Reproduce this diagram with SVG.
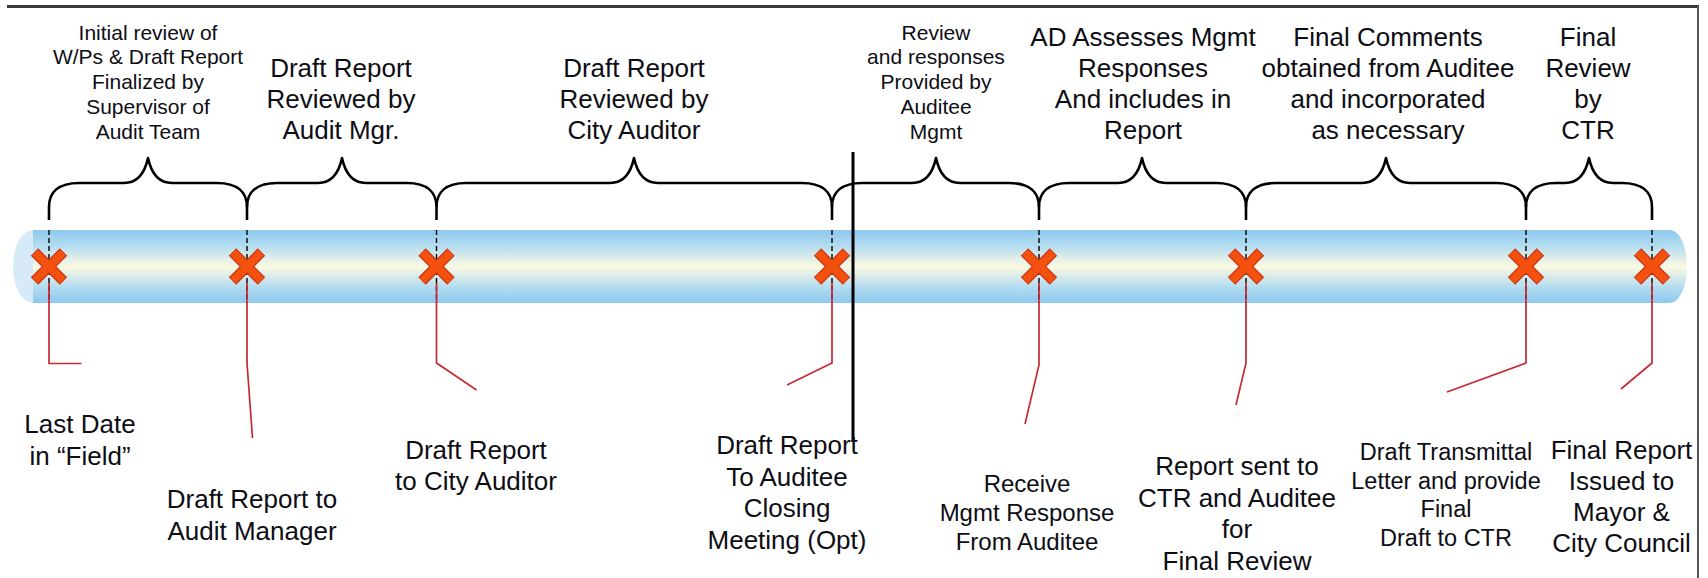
<svg xmlns="http://www.w3.org/2000/svg" width="1708" height="578" viewBox="0 0 1708 578">
  <defs>
    <linearGradient id="tubeFill" x1="0" y1="0" x2="0" y2="1">
      <stop offset="0" stop-color="#8cc8ee"/>
      <stop offset="0.22" stop-color="#b4dcf0"/>
      <stop offset="0.5" stop-color="#fbf9e2"/>
      <stop offset="0.78" stop-color="#b4dcf0"/>
      <stop offset="1" stop-color="#8cc8ee"/>
    </linearGradient>
    <!-- red cross marker, centred on 0,0 -->
    <g id="cross">
      <path d="M-14.5,-14.5 L14.5,14.5 M14.5,-14.5 L-14.5,14.5" stroke="#c9361a" stroke-width="10.5"/>
      <path d="M-14,-14 L14,14 M14,-14 L-14,14" stroke="#f4500e" stroke-width="8"/>
    </g>
  </defs>
  <style>
    text { font-family: "Liberation Sans", Arial, sans-serif; fill: #0d0d14; text-anchor: middle; }
    .big { font-size: 26px; }
    .mid { font-size: 24px; }
    .sm { font-size: 21px; }
    .tl { font-size: 23.5px; }
    .brace { fill: none; stroke: #000; stroke-width: 2.6; stroke-linejoin: round; }
    .lead { fill: none; stroke: #c62a33; stroke-width: 1.7; }
    .tick { stroke: #000; stroke-width: 1.4; stroke-dasharray: 5 3; }
  </style>

  <!-- frame -->
  <g id="frame">
    <line x1="7" y1="6.5" x2="1699" y2="6.5" stroke="#3a3a3a" stroke-width="3"/>
    <line x1="1698" y1="6" x2="1698" y2="578" stroke="#555" stroke-width="2"/>
  </g>

  <!-- timeline tube -->
  <g id="timeline">
    <ellipse cx="33" cy="266.5" rx="20" ry="36.5" fill="#d6eaf8"/>
    <path d="M33,230 H1670 A17,36.5 0 0 1 1670,303 H33 Z" fill="url(#tubeFill)"/>
    <g class="tick">
      <line x1="49" y1="230" x2="49" y2="303"/>
      <line x1="247" y1="230" x2="247" y2="303"/>
      <line x1="436.5" y1="230" x2="436.5" y2="303"/>
      <line x1="832" y1="230" x2="832" y2="303"/>
      <line x1="1039" y1="230" x2="1039" y2="303"/>
      <line x1="1246" y1="230" x2="1246" y2="303"/>
      <line x1="1526" y1="230" x2="1526" y2="303"/>
      <line x1="1652" y1="230" x2="1652" y2="303"/>
    </g>
  </g>

  <!-- connectors: phase braces, leader lines, divider -->
  <g id="connectors">
    <path class="brace" d="M49,220 L49,207 C49,192 59,183 79,183 L124,183 C138,183 145,172 148,158 C151,172 158,183 172,183 L217,183 C237,183 247,192 247,207 L247,220"/>
    <path class="brace" d="M247,207 C247,192 257,183 277,183 L318,183 C332,183 339,172 342,158 C345,172 352,183 366,183 L407,183 C427,183 436.5,192 436.5,207 L436.5,220"/>
    <path class="brace" d="M436.5,207 C436.5,192 446,183 466,183 L610,183 C624,183 631,172 634,158 C637,172 644,183 658,183 L802,183 C822,183 832,192 832,207 L832,220"/>
    <path class="brace" d="M832,207 C832,192 842,183 862,183 L912,183 C926,183 933,172 936,158 C939,172 946,183 960,183 L1009,183 C1029,183 1039,192 1039,207 L1039,220"/>
    <path class="brace" d="M1039,207 C1039,192 1049,183 1069,183 L1118,183 C1132,183 1139,172 1142,158 C1145,172 1152,183 1166,183 L1216,183 C1236,183 1246,192 1246,207 L1246,220"/>
    <path class="brace" d="M1246,207 C1246,192 1256,183 1276,183 L1362,183 C1376,183 1383,172 1386,158 C1389,172 1396,183 1410,183 L1496,183 C1516,183 1526,192 1526,207 L1526,220"/>
    <path class="brace" d="M1526,207 C1526,192 1536,183 1556,183 L1565,183 C1579,183 1586,172 1589,158 C1592,172 1599,183 1613,183 L1622,183 C1642,183 1652,192 1652,207 L1652,220"/>

    <polyline class="lead" points="49,283 49,363.5 81.5,363.5"/>
    <polyline class="lead" points="247,283 247,363 252.5,438"/>
    <polyline class="lead" points="436.5,283 436.5,363 476.5,390"/>
    <polyline class="lead" points="832,283 832,363 787,385"/>
    <polyline class="lead" points="1039,283 1039,365 1025,424"/>
    <polyline class="lead" points="1246,283 1246,363 1236,405"/>
    <polyline class="lead" points="1526,283 1526,363 1447,392"/>
    <polyline class="lead" points="1652,283 1652,363 1621,389"/>

    <line x1="853" y1="152" x2="853" y2="440" stroke="#000" stroke-width="3"/>
  </g>

  <!-- milestones -->
  <g id="m-last-date">
    <use href="#cross" x="49" y="266.5"/>
    <text class="big" x="80" y="433">Last Date</text>
    <text class="big" x="80" y="465">in “Field”</text>
  </g>
  <g id="m-draft-to-mgr">
    <use href="#cross" x="247" y="266.5"/>
    <text class="big" x="252" y="508">Draft Report to</text>
    <text class="big" x="252" y="539.5">Audit Manager</text>
  </g>
  <g id="m-draft-to-ca">
    <use href="#cross" x="436.5" y="266.5"/>
    <text class="big" x="476" y="459">Draft Report</text>
    <text class="big" x="476" y="490">to City Auditor</text>
  </g>
  <g id="m-draft-to-auditee">
    <use href="#cross" x="832" y="266.5"/>
    <text class="big" x="787" y="454">Draft Report</text>
    <text class="big" x="787" y="485.5">To Auditee</text>
    <text class="big" x="787" y="517">Closing</text>
    <text class="big" x="787" y="548.5">Meeting (Opt)</text>
  </g>
  <g id="m-receive-response">
    <use href="#cross" x="1039" y="266.5"/>
    <text class="mid" x="1027" y="491.5">Receive</text>
    <text class="mid" x="1027" y="520.5">Mgmt Response</text>
    <text class="mid" x="1027" y="549.5">From Auditee</text>
  </g>
  <g id="m-report-sent">
    <use href="#cross" x="1246" y="266.5"/>
    <text class="big" x="1237" y="475">Report sent to</text>
    <text class="big" x="1237" y="506.5">CTR and Auditee</text>
    <text class="big" x="1237" y="538">for</text>
    <text class="big" x="1237" y="569.5">Final Review</text>
  </g>
  <g id="m-transmittal">
    <use href="#cross" x="1526" y="266.5"/>
    <text class="tl" x="1446" y="460">Draft Transmittal</text>
    <text class="tl" x="1446" y="488.6">Letter and provide</text>
    <text class="tl" x="1446" y="517.2">Final</text>
    <text class="tl" x="1446" y="545.8">Draft to CTR</text>
  </g>
  <g id="m-final-report">
    <use href="#cross" x="1652" y="266.5"/>
    <text class="big" x="1621.5" y="459">Final Report</text>
    <text class="big" x="1621.5" y="490">Issued to</text>
    <text class="big" x="1621.5" y="521">Mayor &amp;</text>
    <text class="big" x="1621.5" y="552">City Council</text>
  </g>

  <!-- phases -->
  <g id="p-initial-review">
    <text class="sm" x="148" y="39.5">Initial review of</text>
    <text class="sm" x="148" y="64.3">W/Ps &amp; Draft Report</text>
    <text class="sm" x="148" y="89.1">Finalized by</text>
    <text class="sm" x="148" y="113.9">Supervisor of</text>
    <text class="sm" x="148" y="138.7">Audit Team</text>
  </g>
  <g id="p-audit-mgr">
    <text class="big" x="341" y="76.5">Draft Report</text>
    <text class="big" x="341" y="107.5">Reviewed by</text>
    <text class="big" x="341" y="138.5">Audit Mgr.</text>
  </g>
  <g id="p-city-auditor">
    <text class="big" x="634" y="76.5">Draft Report</text>
    <text class="big" x="634" y="107.5">Reviewed by</text>
    <text class="big" x="634" y="138.5">City Auditor</text>
  </g>
  <g id="p-auditee-review">
    <text class="sm" x="936" y="39.5">Review</text>
    <text class="sm" x="936" y="64.3">and responses</text>
    <text class="sm" x="936" y="89.1">Provided by</text>
    <text class="sm" x="936" y="113.9">Auditee</text>
    <text class="sm" x="936" y="138.7">Mgmt</text>
  </g>
  <g id="p-ad-assesses">
    <text class="big" x="1143" y="45.5">AD Assesses Mgmt</text>
    <text class="big" x="1143" y="76.5">Responses</text>
    <text class="big" x="1143" y="107.5">And includes in</text>
    <text class="big" x="1143" y="138.5">Report</text>
  </g>
  <g id="p-final-comments">
    <text class="big" x="1388" y="45.5">Final Comments</text>
    <text class="big" x="1388" y="76.5">obtained from Auditee</text>
    <text class="big" x="1388" y="107.5">and incorporated</text>
    <text class="big" x="1388" y="138.5">as necessary</text>
  </g>
  <g id="p-ctr-review">
    <text class="big" x="1588" y="45.5">Final</text>
    <text class="big" x="1588" y="76.5">Review</text>
    <text class="big" x="1588" y="107.5">by</text>
    <text class="big" x="1588" y="138.5">CTR</text>
  </g>
</svg>
